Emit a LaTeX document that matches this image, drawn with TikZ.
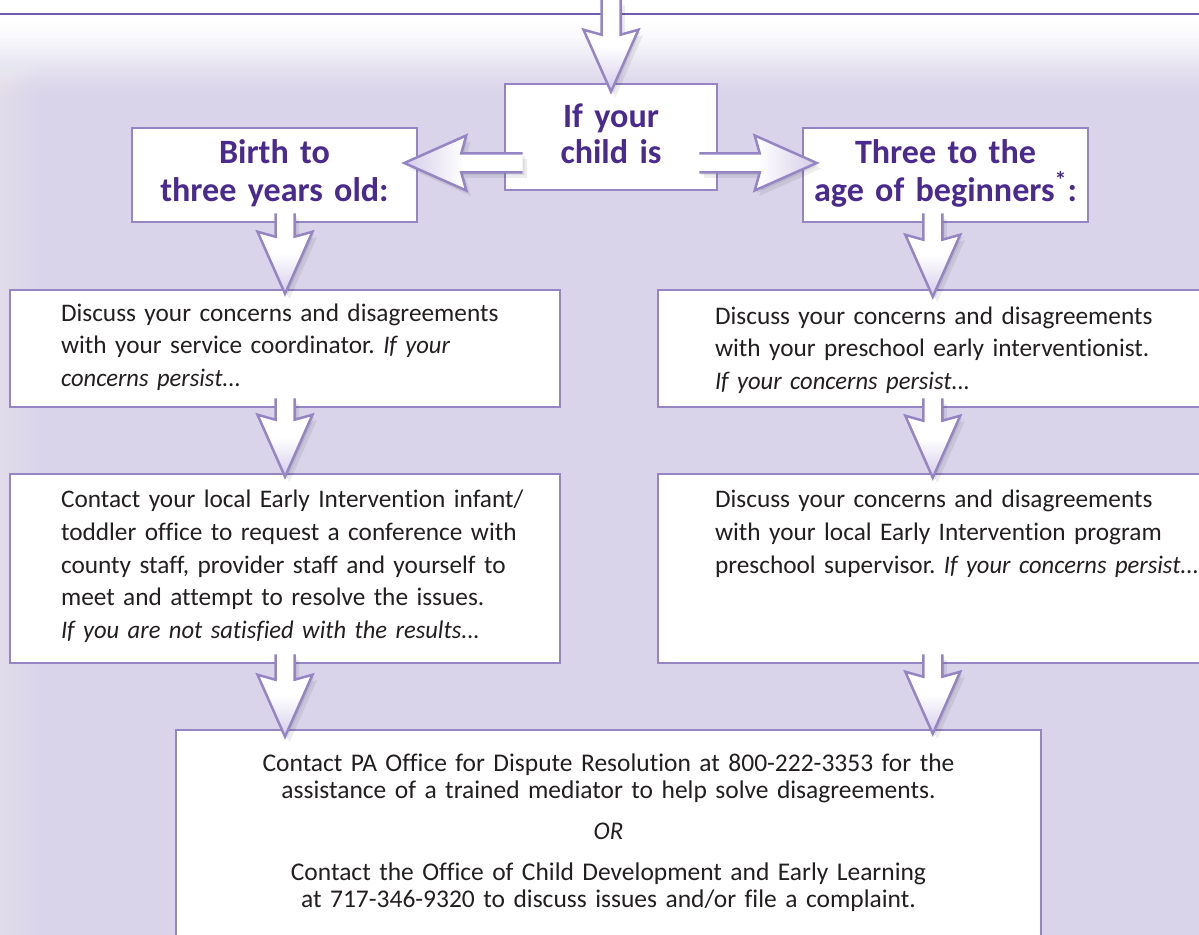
\documentclass[tikz,border=0pt]{standalone}
\usepackage{fontspec}
\setmainfont{Carlito}[Ligatures=NoCommon, ItalicFeatures={FakeStretch=0.97}]
\frenchspacing
\usepackage{tikz}
\usetikzlibrary{positioning,calc}
\definecolor{lavender}{HTML}{D9D4E9}
\definecolor{boxline}{HTML}{9585C5}
\definecolor{rule}{HTML}{6F5DB0}
\definecolor{titleink}{HTML}{4A2A8E}
\definecolor{bodyink}{HTML}{231F20}
\definecolor{arrowtint}{HTML}{D3CCE8}

\newcommand{\bodyfont}{\fontsize{14.4pt}{0.66cm}\selectfont}
\newcommand{\titlefont}{\fontsize{19.4pt}{0.755cm}\selectfont\bfseries}

% block arrow from shaft start #2 to tip #3, #1 = shading
\newcommand{\bigarrow}[3][]{%
  \coordinate (ba-j) at ($(#3)!1.14cm!(#2)$);
  \coordinate (ba-h) at ($(#3)!1.24cm!(#2)$);
  \def\arrowpts{($(#2)!0.19cm!90:(#3)$) -- ($(ba-j)!0.19cm!90:(#3)$) -- ($(ba-h)!0.55cm!90:(#3)$) -- (#3)
    -- ($(ba-h)!0.55cm!-90:(#3)$) -- ($(ba-j)!0.19cm!-90:(#3)$) -- ($(#2)!0.19cm!-90:(#3)$)}%
  \fill[arrowshadow, transform canvas={xshift=0.09cm, yshift=-0.11cm}] \arrowpts -- cycle;
  \fill[arrowshadow, transform canvas={xshift=0.04cm, yshift=-0.05cm}] \arrowpts -- cycle;
  \path[#1] \arrowpts -- cycle;
  \draw[arrowrim] \arrowpts;
}

\tikzset{
  box/.style={draw=boxline, line width=0.052cm, fill=white, inner sep=0pt},
  titlebox/.style={box, align=center, text=titleink, font=\titlefont},
  bodybox/.style={box, align=left, text=bodyink, font=\bodyfont, execute at begin node={\leftskip=#1}},
  arrowrim/.style={draw=boxline, line width=0.05cm, line join=miter},
  arrowshadow/.style={fill=black, opacity=0.07},
  downshade/.style={top color=white, bottom color=arrowtint, middle color=white},
  leftshade/.style={left color=arrowtint, right color=white, middle color=white},
  rightshade/.style={left color=white, right color=arrowtint, middle color=white},
}

\begin{document}
\begin{tikzpicture}[x=0.02cm, y=-0.02cm]
  \useasboundingbox (0,0) rectangle (1199,935);
  \clip (0,0) rectangle (1199,935);

  % background
  \fill[white] (0,0) rectangle (1199,935);
  \fill[lavender] (0,14) rectangle (1199,935);
  % soft fade below the rule (smoothstep)
  \foreach \i [evaluate=\i as \pct using 100*(3*(\i/42)^2-2*(\i/42)^3)] in {0,...,42}
    \fill[lavender!\pct!white] (0,15+2*\i) rectangle (1199,17.5+2*\i);
  % lighter left margin
  \foreach \j in {0,...,7}
    \fill[white, opacity=0.04] (0,14) rectangle (40-5*\j,935);
  \draw[rule, line width=0.035cm] (0,14) -- (1199,14);

  % age groups
  \node[titlebox, text width=4.24cm, text height=0.88cm, text depth=1.24cm,
        font=\fontsize{19.4pt}{0.71cm}\selectfont\bfseries] (child) at (611,137) {If your\\child is};
  \node[titlebox, text width=5.7cm, text height=0.72cm, text depth=1.16cm] (birth) at (274.5,175) {Birth to\\three years old:};
  \node[titlebox, text width=5.7cm, text height=0.72cm, text depth=1.16cm] (three) at (945.5,175) {Three to the\\age of beginners\textsuperscript{*}:};

  % birth to three
  \node[bodybox=1.02cm, text width=11cm, text height=0.62cm, text depth=1.72cm] (svc) at (285,348.5)
    {Discuss your concerns and disagreements\\with your service coordinator. \textit{If your}\\\textit{concerns persist...}};
  \node[bodybox=1.02cm, text width=11cm, text height=0.66cm, text depth=3.12cm] (office) at (285,568.5)
    {Contact your local Early Intervention infant/\\toddler office to request a conference with\\county staff, provider staff and yourself to\\meet and attempt to resolve the issues.\\\textit{If you are not satisfied with the results...}};

  % three to beginners
  \node[bodybox=1.14cm, text width=12.04cm, text height=0.68cm, text depth=1.66cm] (pre) at (959,348.5)
    {Discuss your concerns and disagreements\\with your preschool early interventionist.\\\textit{If your concerns persist...}};
  \node[bodybox=1.14cm, text width=12.04cm, text height=0.66cm, text depth=3.12cm] (sup) at (959,568.5)
    {Discuss your concerns and disagreements\\with your local Early Intervention program\\preschool supervisor. \textit{If your concerns persist...}};

  % both paths end here
  \node[box, align=center, text=bodyink, font=\fontsize{14.5pt}{0.55cm}\selectfont,
        text width=17.3cm, text height=0.82cm, text depth=3.78cm] (odr) at (608.5,845)
    {Contact PA Office for Dispute Resolution at 800-222-3353 for the\\assistance of a trained mediator to help solve disagreements.\\[0.27cm]
     \textit{OR}\\[0.27cm]
     Contact the Office of Child Development and Early Learning\\at 717-346-9320 to discuss issues and/or file a complaint.};

  % arrows
  \coordinate (entry) at (611,0);
  \coordinate (entry-t) at ($(child.north)+(0,9)$);
  \coordinate (l-s) at ($(child.west)+(19,26)$);
  \coordinate (l-t) at ($(birth.east |- l-s)+(-14,0)$);
  \coordinate (r-s) at ($(child.east)+(-19,26)$);
  \coordinate (r-t) at ($(three.west |- r-s)+(15,0)$);
  \coordinate (a1-s) at ($(svc.north |- birth.south)+(0,-10)$);
  \coordinate (a1-t) at ($(svc.north)+(0,5)$);
  \coordinate (a2-s) at ($(svc.south)+(0,-10)$);
  \coordinate (a2-t) at ($(office.north)+(0,4)$);
  \coordinate (a3-s) at ($(office.south)+(0,-10)$);
  \coordinate (a3-t) at ($(office.south |- odr.north)+(0,8)$);
  \coordinate (b1-s) at ($(pre.north west |- three.south)+(276,-10)$);
  \coordinate (b1-t) at ($(pre.north west)+(276,8)$);
  \coordinate (b2-s) at ($(pre.south west)+(276,-10)$);
  \coordinate (b2-t) at ($(sup.north west)+(276,5)$);
  \coordinate (b3-s) at ($(sup.south west)+(276,-10)$);
  \coordinate (b3-t) at ($(sup.south west |- odr.north)+(276,5)$);

  \bigarrow[downshade]{entry}{entry-t}
  \bigarrow[leftshade]{l-s}{l-t}
  \bigarrow[rightshade]{r-s}{r-t}
  \bigarrow[downshade]{a1-s}{a1-t}
  \bigarrow[downshade]{a2-s}{a2-t}
  \bigarrow[downshade]{a3-s}{a3-t}
  \bigarrow[downshade]{b1-s}{b1-t}
  \bigarrow[downshade]{b2-s}{b2-t}
  \bigarrow[downshade]{b3-s}{b3-t}
\end{tikzpicture}
\end{document}
